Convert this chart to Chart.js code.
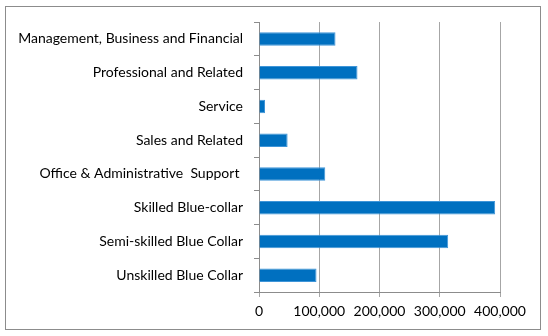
<html lang="en">
  <head>
    <meta charset="utf-8">
    <title>Occupations</title>
    <style>
      body { margin: 0; background: white; }
    </style>
  </head>
  <body>
    <canvas id="myChart" width="548" height="336"></canvas>

    <script src="https://cdn.jsdelivr.net/npm/chart.js/dist/chart.umd.min.js"></script>
    <script>
    // data
    const categories = [
      'Management, Business and Financial',
      'Professional and Related',
      'Service',
      'Sales and Related',
      'Office & Administrative  Support ',
      'Skilled Blue-collar',
      'Semi-skilled Blue Collar',
      'Unskilled Blue Collar'
    ];
    const workers = [127000, 163500, 10000, 47500, 110000, 392000, 314000, 95500];
    const xTicks = [0, 100000, 200000, 300000, 400000];

    // outer frame round the whole chart
    const frame = {
      id: 'frame',
      beforeDraw(chart) {
        const {ctx} = chart;
        ctx.save();
        ctx.fillStyle = 'white';
        ctx.fillRect(0, 0, chart.width, chart.height);
        ctx.strokeStyle = '#8c8c8c';
        ctx.lineWidth = 1;
        ctx.strokeRect(5.5, 6.5, 535, 323);
        ctx.restore();
      }
    };

    const font = {family: 'Lato', size: 14};

    const config = {
      type: 'bar',
      data: {
        labels: categories,
        datasets: [{
          data: workers,
          backgroundColor: '#0070c0',
          borderColor: '#3f95d8',
          borderWidth: 1,
          categoryPercentage: 1,
          barPercentage: 0.4
        }]
      },
      options: {
        indexAxis: 'y',
        responsive: false,
        animation: false,
        layout: { padding: {top: 22, right: 48, left: 0, bottom: 0} },
        plugins: {
          legend: { display: false },
          tooltip: { enabled: false }
        },
        scales: {
          x: {
            min: 0,
            max: 400000,
            afterFit(scale) { scale.height = 44; },
            afterBuildTicks(scale) { scale.ticks = xTicks.map(v => ({value: v})); },
            grid: { color: '#a6a6a6', tickLength: 5 },
            border: { color: '#8c8c8c' },
            ticks: {
              color: '#000',
              font: font,
              padding: 6,
              maxRotation: 0,
              callback: v => v.toLocaleString('en-US')
            }
          },
          y: {
            afterFit(scale) { scale.width = 259; },
            grid: { drawOnChartArea: false, color: '#8c8c8c', tickLength: 5 },
            border: { color: '#8c8c8c' },
            ticks: { color: '#000', font: font, padding: 11 }
          }
        }
      },
      plugins: [frame]
    };

    const myChart = new Chart(document.getElementById('myChart'), config);
    </script>
  </body>
</html>
